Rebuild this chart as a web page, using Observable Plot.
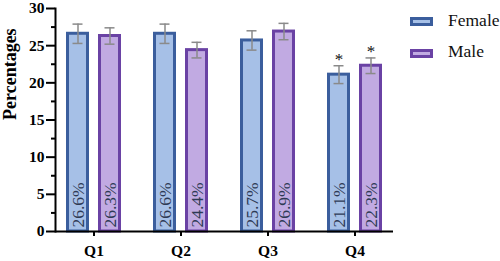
<!DOCTYPE html>
<html><head><meta charset="utf-8">
<script src="https://cdn.jsdelivr.net/npm/d3@7"></script>
<script src="https://cdn.jsdelivr.net/npm/@observablehq/plot@0.6"></script>
<style>
body{margin:0;background:#fff;}
#wrap{position:relative;width:500px;height:261px;overflow:hidden;}
.sw{position:absolute;left:410px;width:17px;height:3px;border:3px solid;}
.lt{position:absolute;left:448px;font-family:'Liberation Serif','Times New Roman',serif;font-size:17.5px;line-height:17.5px;color:#111;white-space:nowrap;}
</style></head><body><div id="wrap"></div>
<script>
const quarters = ["Q1", "Q2", "Q3", "Q4"];
const female = [26.6, 26.6, 25.7, 21.1];
const male = [26.3, 24.4, 26.9, 22.3];
const femaleErr = [1.3, 1.3, 1.3, 1.2];
const maleErr = [1.1, 1.05, 1.1, 1.05];
const significant = [false, false, false, true];
const seriesNames = ["Female", "Male"];
const yTicks = [0, 5, 10, 15, 20, 25, 30];
const yMinorTicks = [2.5, 7.5, 12.5, 17.5, 22.5, 27.5];

const colors = {
  Female: {fill: "#a6c0e7", stroke: "#3b5e9d"},
  Male: {fill: "#c1aae2", stroke: "#6a42a4"}
};
const offsets = {Female: -16, Male: 16};

const rows = (vals, errs, name) => quarters.map((q, i) => ({
  q, name, v: vals[i], e: errs[i], sig: significant[i], label: vals[i].toFixed(1) + "%"
}));
const fRows = rows(female, femaleErr, "Female");
const mRows = rows(male, maleErr, "Male");

const serif = "Liberation Serif";

function seriesMarks(data, name) {
  const dx = offsets[name];
  const c = colors[name];
  const inL = name === "Female" ? 1.5 : 33.5;
  const inR = name === "Female" ? 33.5 : 1.5;
  return [
    Plot.barY(data, {x: "q", y: "v", fill: c.fill, stroke: c.stroke, strokeWidth: 3, insetLeft: inL, insetRight: inR}),
    Plot.ruleX(data, {x: "q", y1: d => d.v - d.e, y2: d => d.v + d.e, dx, stroke: "#8a8a8a", strokeWidth: 1.5}),
    Plot.tickY(data, {x: "q", y: d => d.v + d.e, dx, insetLeft: 22.5, insetRight: 22.5, stroke: "#8a8a8a", strokeWidth: 1.5}),
    Plot.tickY(data, {x: "q", y: d => d.v - d.e, dx, insetLeft: 22.5, insetRight: 22.5, stroke: "#8a8a8a", strokeWidth: 1.5}),
    Plot.text(data.filter(d => d.sig), {x: "q", y: d => d.v + d.e, text: () => "*", dx, dy: -1, lineAnchor: "bottom", fontSize: 17, fontFamily: serif, fontWeight: "normal", fill: "#111"}),
    Plot.text(data, {x: "q", y: () => 0, text: "label", rotate: -90, textAnchor: "start", lineAnchor: "middle", dx, dy: -4, fontSize: 17.5, fontFamily: serif, fontWeight: "normal", fill: "#2e3a55"})
  ];
}

const axisFont = {fontFamily: serif, fontWeight: "bold", fontSize: 15.5};

const chart = Plot.plot({
  width: 500,
  height: 261,
  marginLeft: 55,
  marginRight: 107,
  marginTop: 8,
  marginBottom: 30,
  style: {fontFamily: serif, fontWeight: "bold", fontSize: "16px", color: "#000", background: "#fff"},
  x: {domain: quarters, paddingInner: 0.37, paddingOuter: 0.12, label: null},
  y: {domain: [0, 30], label: null},
  marks: [
    ...seriesMarks(fRows, "Female"),
    ...seriesMarks(mRows, "Male"),
    Plot.axisY({ticks: yMinorTicks, tickSize: 4, tickFormat: () => "", strokeWidth: 2, label: null}),
    Plot.axisY({ticks: yTicks, tickSize: 9, tickPadding: 2, strokeWidth: 2, label: null, ...axisFont}),
    Plot.axisX({tickSize: 5, tickPadding: 8, strokeWidth: 2, label: null, ...axisFont}),
    Plot.text(["Percentages"], {frameAnchor: "left", dx: -45, rotate: -90, lineAnchor: "middle", fontSize: 18, fontWeight: "bold", fontFamily: serif, fill: "#000"}),
    Plot.ruleY([0], {strokeWidth: 2}),
    Plot.frame({anchor: "left", strokeWidth: 2})
  ]
});

const wrap = document.getElementById("wrap");
wrap.appendChild(chart);
const legendTops = {Female: 17, Male: 49};
const textTops = {Female: 12.4, Male: 43.4};
for (const name of seriesNames) {
  const sw = document.createElement("div");
  sw.className = "sw";
  sw.style.top = legendTops[name] + "px";
  sw.style.background = colors[name].fill;
  sw.style.borderColor = colors[name].stroke;
  wrap.appendChild(sw);
  const t = document.createElement("div");
  t.className = "lt";
  t.style.top = textTops[name] + "px";
  t.textContent = name;
  wrap.appendChild(t);
}
</script>
</body></html>
